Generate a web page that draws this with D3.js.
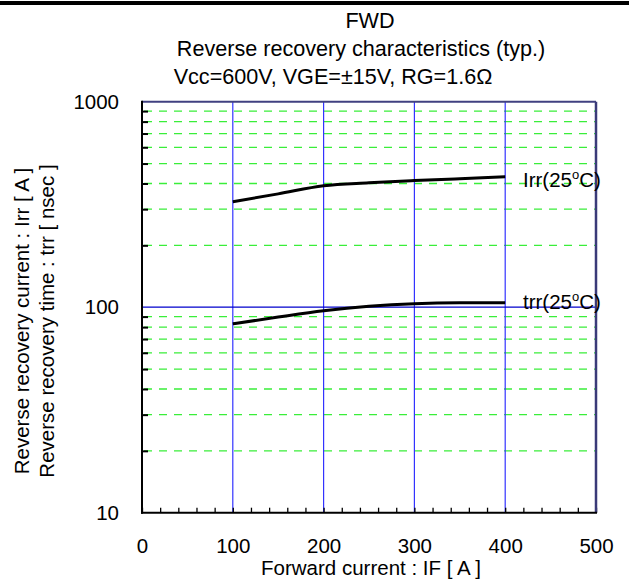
<!DOCTYPE html>
<html><head><meta charset="utf-8">
<script src="https://cdn.jsdelivr.net/npm/d3@7/dist/d3.min.js"></script>
<style>body{margin:0;background:#fff}svg{display:block;font-family:"Liberation Sans",Arial,sans-serif}</style>
</head><body><svg id="c" width="629" height="580"></svg>
<script>
const irrX = [100, 150, 200, 250, 300, 350, 400];
const irrY = [326, 356, 390, 403, 413, 422, 431];
const trrX = [100, 150, 200, 250, 300, 350, 400];
const trrY = [83, 89.5, 96, 101, 104, 105, 105];
const xTicks = [0, 100, 200, 300, 400, 500];
const yTicks = [10, 100, 1000];
const gridVals = [20,30,40,50,60,70,80,90,200,300,400,500,600,700,800,900];
const xMinor = d3.range(0, 501, 20);
const titles = ["FWD", "Reverse recovery characteristics (typ.)", "Vcc=600V, VGE=±15V, RG=1.6Ω"];

const FS = 20.5;
const svg = d3.select("#c");
const L = 142, R = 596, T = 101.7, B = 512.7;
const x = d3.scaleLinear().domain([0, 500]).range([L, R]);
const y = d3.scaleLog().domain([10, 1000]).range([B, T]);

// top thick bar
svg.append("rect").attr("x", 0).attr("y", 1).attr("width", 629).attr("height", 4).attr("fill", "#000");

// titles
const tpos = [[370, 28], [361, 56], [333, 84]];
titles.forEach((t, i) => svg.append("text").attr("x", tpos[i][0]).attr("y", tpos[i][1])
  .attr("text-anchor", "middle").attr("font-size", 21.6).text(t));

// green dashed grid
svg.append("g").selectAll("line").data(gridVals).join("line")
  .attr("x1", L + 2).attr("x2", R).attr("y1", d => y(d)).attr("y2", d => y(d))
  .attr("stroke", "#3aee3a").attr("stroke-width", 1.3).attr("stroke-dasharray", "8,7");

// blue vertical lines
svg.append("g").selectAll("line").data([100, 200, 300, 400]).join("line")
  .attr("x1", d => x(d)).attr("x2", d => x(d)).attr("y1", T).attr("y2", B)
  .attr("stroke", "#3333ff").attr("stroke-width", 1.2);
// blue horizontal at 100
svg.append("line").attr("x1", L).attr("x2", R).attr("y1", y(100)).attr("y2", y(100))
  .attr("stroke", "#0000cc").attr("stroke-width", 1.3);

// axes with inward ticks
const yAxisMinor = d3.axisRight(y).tickValues(gridVals).tickSize(6).tickFormat("");
svg.append("g").attr("transform", `translate(${L},0)`).call(yAxisMinor)
  .call(g => { g.select(".domain").remove(); g.selectAll("line").attr("stroke", "#000").attr("stroke-width", 2); });
const xAxisMinor = d3.axisTop(x).tickValues(xMinor).tickSize(5).tickFormat("");
svg.append("g").attr("transform", `translate(0,${B})`).call(xAxisMinor)
  .call(g => { g.select(".domain").remove(); g.selectAll("line").attr("stroke", "#000").attr("stroke-width", 1.3); });

// frame
svg.append("line").attr("x1", L).attr("x2", R).attr("y1", T).attr("y2", T).attr("stroke", "#404080").attr("stroke-width", 2);
svg.append("line").attr("x1", R).attr("x2", R).attr("y1", T).attr("y2", B).attr("stroke", "#3a3a78").attr("stroke-width", 2.5);
svg.append("line").attr("x1", L).attr("x2", L).attr("y1", T - 1).attr("y2", B + 1).attr("stroke", "#000").attr("stroke-width", 2);
svg.append("line").attr("x1", L - 1).attr("x2", R + 1).attr("y1", B).attr("y2", B).attr("stroke", "#000").attr("stroke-width", 2);

// tick labels
const xAxis = d3.axisBottom(x).tickValues(xTicks).tickSize(0).tickPadding(26).tickFormat(d3.format("d"));
svg.append("g").attr("transform", `translate(0,${B})`).call(xAxis)
  .call(g => { g.select(".domain").remove(); g.selectAll("text").attr("font-size", FS).attr("font-family", "Liberation Sans, Arial, sans-serif").attr("fill", "#000"); });
const yAxis = d3.axisLeft(y).tickValues(yTicks).tickSize(0).tickPadding(23).tickFormat(d3.format("d"));
svg.append("g").attr("transform", `translate(${L},0)`).call(yAxis)
  .call(g => { g.select(".domain").remove(); g.selectAll("text").attr("font-size", FS).attr("font-family", "Liberation Sans, Arial, sans-serif").attr("fill", "#000"); });

// axis titles
svg.append("text").attr("x", 371).attr("y", 575).attr("text-anchor", "middle").attr("font-size", FS).text("Forward current : IF [ A ]");
svg.append("text").attr("transform", "translate(29,321) rotate(-90)").attr("text-anchor", "middle").attr("font-size", FS).text("Reverse recovery current : Irr [ A ]");
svg.append("text").attr("transform", "translate(54,321) rotate(-90)").attr("text-anchor", "middle").attr("font-size", FS).text("Reverse recovery time : trr [ nsec ]");

// curves
const line = d3.line().x(d => x(d[0])).y(d => y(d[1])).curve(d3.curveMonotoneX);
svg.append("path").datum(irrX.map((v, i) => [v, irrY[i]])).attr("d", line)
  .attr("fill", "none").attr("stroke", "#000").attr("stroke-width", 3);
svg.append("path").datum(trrX.map((v, i) => [v, trrY[i]])).attr("d", line)
  .attr("fill", "none").attr("stroke", "#000").attr("stroke-width", 3);

// series labels
function label(name, yy) {
  const t = svg.append("text").attr("x", 523).attr("y", yy).attr("font-size", FS);
  t.append("tspan").text(name + "(25");
  t.append("tspan").attr("font-size", 13).attr("dy", -8).text("o");
  t.append("tspan").attr("dy", 8).text("C)");
}
label("Irr", 187);
label("trr", 309);
</script></body></html>
